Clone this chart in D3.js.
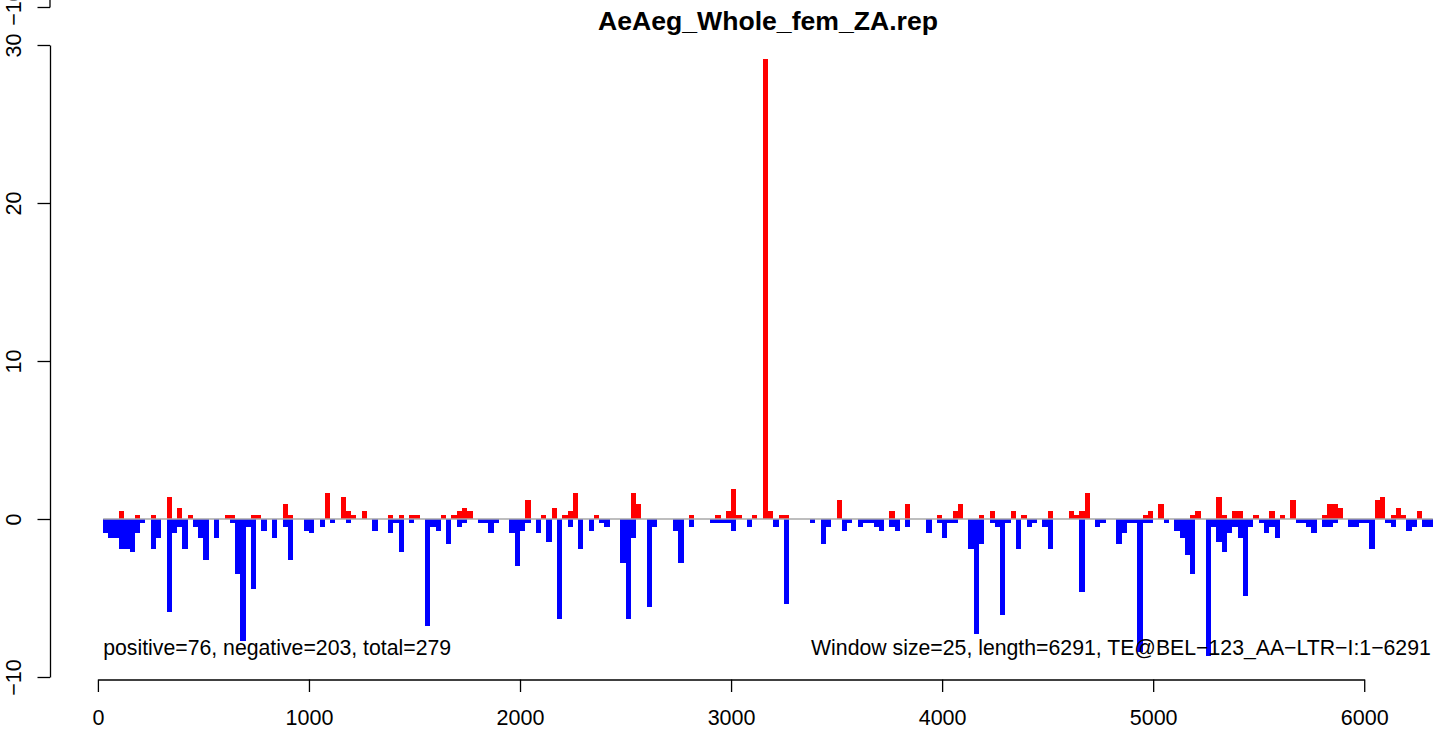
<!DOCTYPE html>
<html>
<head>
<meta charset="utf-8">
<script src="https://cdn.jsdelivr.net/npm/d3@7"></script>
<style>
  html, body { margin: 0; padding: 0; background: #fff; }
  svg { display: block; }
  text { font-family: "Liberation Sans", Arial, Helvetica, sans-serif; fill: #000; }
</style>
</head>
<body>
<div id="chart"></div>
<script>
// window starts (window size 25) and coverage per strand
const windowSize = 25;
const seqLength = 6291;
const windowStart = d3.range(25, 6325, windowSize);

const positive = [
  0, 0, 0, 0.5, 0, 0, 0.25, 0, 0, 0.25,
  0, 0, 1.4, 0, 0.7, 0, 0.25, 0, 0, 0,
  0, 0, 0, 0.25, 0.25, 0, 0, 0, 0.25, 0.25,
  0, 0, 0, 0, 0.95, 0.25, 0, 0, 0, 0,
  0, 0, 1.65, 0, 0, 1.4, 0.5, 0.25, 0, 0.5,
  0, 0, 0, 0, 0.25, 0, 0.25, 0, 0.25, 0.25,
  0, 0, 0, 0, 0.25, 0, 0.25, 0.5, 0.7, 0.5,
  0, 0, 0, 0, 0, 0, 0, 0, 0, 0,
  1.2, 0, 0, 0.25, 0, 0.7, 0, 0.25, 0.5, 1.65,
  0, 0, 0, 0.25, 0, 0, 0, 0, 0, 0,
  1.65, 0.95, 0, 0, 0, 0, 0, 0, 0, 0,
  0, 0.25, 0, 0, 0, 0, 0.25, 0, 0.5, 1.9,
  0.25, 0, 0, 0.25, 0, 29.1, 0.5, 0, 0.25, 0.25,
  0, 0, 0, 0, 0, 0, 0, 0, 0, 1.2,
  0, 0, 0, 0, 0, 0, 0, 0, 0, 0.5,
  0, 0, 0.95, 0, 0, 0, 0, 0, 0.25, 0,
  0, 0.5, 0.95, 0, 0, 0, 0.25, 0, 0.5, 0,
  0, 0, 0.5, 0, 0.25, 0, 0, 0, 0, 0.5,
  0, 0, 0, 0.5, 0.25, 0.5, 1.65, 0, 0, 0,
  0, 0, 0, 0, 0, 0, 0, 0.25, 0.5, 0,
  0.95, 0, 0, 0, 0, 0, 0.25, 0.5, 0, 0,
  0, 1.4, 0.25, 0, 0.5, 0.5, 0, 0, 0.25, 0,
  0, 0.5, 0, 0.25, 0, 1.2, 0, 0, 0, 0,
  0, 0.25, 0.95, 0.95, 0.7, 0, 0, 0, 0, 0,
  0, 1.2, 1.4, 0, 0.25, 0.7, 0.25, 0, 0, 0.5,
  0, 0
];

const negative = [
  0.9, 1.2, 1.2, 1.9, 1.9, 2.1, 0.9, 0.25, 0, 1.9,
  1.2, 0, 5.9, 0.9, 0.5, 1.9, 0, 0.5, 1.2, 2.6,
  0, 1.2, 0, 0, 0.25, 3.5, 7.7, 0.5, 4.45, 0,
  0.75, 0, 1.2, 0, 0.5, 2.6, 0, 0, 0.75, 0.9,
  0, 0.5, 0, 0.25, 0, 0, 0.25, 0, 0, 0,
  0, 0.75, 0, 0, 0.9, 0.25, 2.1, 0, 0.25, 0,
  0, 6.8, 0.5, 0.75, 0, 1.6, 0, 0.5, 0.25, 0,
  0, 0.25, 0.25, 0.9, 0.25, 0, 0, 0.9, 3.0, 0.75,
  0.25, 0, 0.9, 0, 1.45, 0, 6.3, 0, 0.5, 0,
  1.9, 0, 0.75, 0, 0.25, 0.5, 0, 0, 2.8, 6.3,
  1.2, 0, 0, 5.6, 0.5, 0, 0, 0, 0.75, 2.8,
  0, 0.5, 0, 0, 0, 0.25, 0.25, 0.25, 0.25, 0.75,
  0, 0, 0.5, 0, 0, 0, 0, 0.5, 0, 5.35,
  0, 0, 0, 0, 0.25, 0, 1.6, 0.5, 0, 0,
  0.75, 0.25, 0, 0.5, 0.25, 0.25, 0.5, 0.75, 0, 0.5,
  0.75, 0, 0.5, 0, 0, 0, 0.9, 0, 0.25, 1.2,
  0.25, 0.25, 0, 0, 1.9, 7.3, 1.6, 0, 0.25, 0.5,
  6.05, 0.25, 0, 1.9, 0, 0.5, 0.25, 0, 0.5, 1.9,
  0, 0, 0, 0, 0, 4.65, 0, 0, 0.5, 0.25,
  0, 0, 1.6, 0.9, 0.25, 0.25, 8.4, 0.25, 0.25, 0,
  0, 0.25, 0, 0.75, 1.2, 2.3, 3.5, 0, 0, 8.65,
  0.5, 1.45, 2.1, 0.9, 0.5, 1.2, 4.9, 0.5, 0, 0.25,
  0.9, 0.5, 1.2, 0, 0, 0, 0.25, 0.25, 0.5, 0.9,
  0, 0.5, 0.5, 0.25, 0, 0, 0.5, 0.5, 0.25, 0.25,
  1.9, 0, 0, 0.25, 0.5, 0, 0, 0.75, 0.5, 0,
  0.5, 0.5
];

const xTicks = [0, 1000, 2000, 3000, 4000, 5000, 6000];
const yTicks = [-10, 0, 10, 20, 30];

const title = "AeAeg_Whole_fem_ZA.rep";
const countLabel = "positive=76, negative=203, total=279";
const infoLabel = "Window size=25, length=6291, TE@BEL\u2212123_AA\u2212LTR\u2212I:1\u22126291";

// SVG dimensions
const width = 1444;
const height = 730;
const plot = { left: 50, right: 1486, top: 45, bottom: 677 };
const fontSize = 21.5;
const noteSize = 21.25;
const tickLen = 12.5;

const svg = d3.select("#chart")
  .append("svg")
  .attr("width", width)
  .attr("height", height);

// x range padded 4% on both sides like R
const xMin = windowStart[0];
const xMax = windowStart[windowStart.length - 1] + windowSize;
const pad = 0.04 * (xMax - xMin);
const xScale = d3.scaleLinear()
  .domain([xMin - pad, xMax + pad])
  .range([plot.left, plot.right]);

const yScale = d3.scaleLinear()
  .domain([-10, 30])
  .range([plot.bottom, plot.top]);

const bars = windowStart.map((s, i) => ({ start: s, pos: positive[i], neg: negative[i] }));

// negative strand bars
svg.append("g")
  .attr("shape-rendering", "crispEdges")
  .selectAll("rect")
  .data(bars.filter(d => d.neg > 0))
  .join("rect")
  .attr("x", d => xScale(d.start))
  .attr("width", d => xScale(d.start + windowSize) - xScale(d.start))
  .attr("y", yScale(0))
  .attr("height", d => yScale(-d.neg) - yScale(0))
  .attr("fill", "#0000ff");

// positive strand bars
svg.append("g")
  .attr("shape-rendering", "crispEdges")
  .selectAll("rect")
  .data(bars.filter(d => d.pos > 0))
  .join("rect")
  .attr("x", d => xScale(d.start))
  .attr("width", d => xScale(d.start + windowSize) - xScale(d.start))
  .attr("y", d => yScale(d.pos))
  .attr("height", d => yScale(0) - yScale(d.pos))
  .attr("fill", "#ff0000");

// zero line
svg.append("line")
  .attr("x1", xScale(xMin))
  .attr("x2", xScale(xMax))
  .attr("y1", yScale(0))
  .attr("y2", yScale(0))
  .attr("stroke", "#a8a8a8")
  .attr("stroke-width", 1.4);

// x axis
const xAxisScale = xScale.copy()
  .domain([xTicks[0], xTicks[xTicks.length - 1]])
  .range([xScale(xTicks[0]), xScale(xTicks[xTicks.length - 1])]);

const xAxis = svg.append("g")
  .attr("transform", "translate(0, 679.5)")
  .call(d3.axisBottom(xAxisScale).tickValues(xTicks).tickSize(tickLen).tickSizeOuter(0).tickPadding(8).tickFormat(d3.format("d")));
xAxis.selectAll("text")
  .attr("font-size", fontSize)
  .attr("font-family", null)
  .attr("dy", null)
  .attr("y", 45.5);

// y axis
const yAxis = svg.append("g")
  .attr("transform", `translate(${plot.left}, 0)`)
  .call(d3.axisLeft(yScale).tickValues(yTicks).tickSize(tickLen).tickSizeOuter(0));
yAxis.selectAll("text")
  .attr("font-size", fontSize)
  .attr("transform", "rotate(-90)")
  .attr("text-anchor", "middle")
  .attr("x", 0)
  .attr("dy", null)
  .attr("y", -29);

// stub of the axis from the panel above (cut by the top edge, as in the source)
const stub = svg.append("g").attr("transform", `translate(${plot.left}, 7.5)`);
stub.append("line").attr("x1", 0).attr("x2", 0).attr("y1", -8).attr("y2", 0);
stub.append("line").attr("x1", -tickLen).attr("x2", 0).attr("y1", 0).attr("y2", 0);
stub.selectAll("line").attr("stroke", "#000").attr("stroke-width", 1.3);
stub.append("text")
  .attr("transform", "rotate(-90)")
  .attr("text-anchor", "middle")
  .attr("y", -29)
  .attr("font-size", fontSize)
  .text("\u221210");

svg.selectAll(".domain, .tick line")
  .attr("stroke", "#000")
  .attr("stroke-width", 1.3);

// title
svg.append("text")
  .attr("x", (plot.left + plot.right) / 2)
  .attr("y", 30)
  .attr("text-anchor", "middle")
  .attr("font-size", 26.6)
  .attr("font-weight", "bold")
  .text(title);

// annotations
svg.append("text")
  .attr("x", xScale(xMin))
  .attr("y", 655)
  .attr("font-size", noteSize)
  .text(countLabel);

svg.append("text")
  .attr("x", xScale(xMax) - 2)
  .attr("y", 655)
  .attr("text-anchor", "end")
  .attr("font-size", noteSize)
  .text(infoLabel);
</script>
</body>
</html>
